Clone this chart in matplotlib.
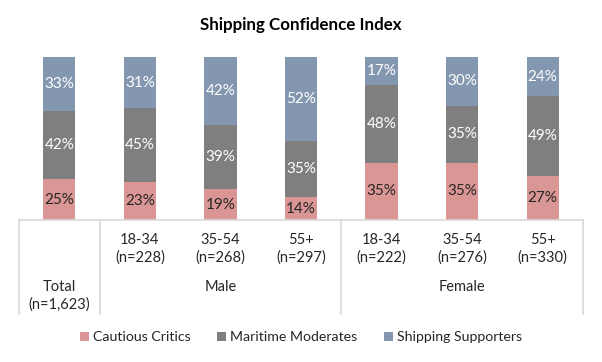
import numpy as np
import matplotlib.pyplot as plt
from matplotlib import transforms

# chart values
ages = ["", "18-34", "35-54", "55+", "18-34", "35-54", "55+"]
counts = ["", "(n=228)", "(n=268)", "(n=297)", "(n=222)", "(n=276)", "(n=330)"]
groups = ["Male", "Female"]
series = ["Cautious Critics", "Maritime Moderates", "Shipping Supporters"]
critics = [25, 23, 19, 14, 35, 35, 27]
moderates = [42, 45, 39, 35, 48, 35, 49]
supporters = [33, 31, 42, 52, 17, 30, 24]

colors = ["#D99694", "#7F7F7F", "#8497B0"]
label_colors = ["#262626", "white", "white"]
line_color = "#D9D9D9"

plt.rcParams['font.family'] = ['Lato', 'DejaVu Sans']

fig = plt.figure(figsize=(6.02, 3.62), dpi=100)
W, H = 602, 362
ax = fig.add_axes([19 / W, 1 - 220 / H, (583 - 19) / W, (220 - 57) / H])

x = np.arange(len(critics))
data = np.array([critics, moderates, supporters], dtype=float)
totals = data.sum(axis=0)
shares = data / totals  # rounded labels don't always add to 100

bottom = np.zeros(len(x))
for i, name in enumerate(series):
    ax.bar(x, shares[i], 0.4, bottom=bottom, color=colors[i], label=name)
    for j in range(len(x)):
        ax.text(x[j], bottom[j] + shares[i][j] / 2, "%d%%" % data[i][j],
                ha="center", va="center", fontsize=11, color=label_colors[i])
    bottom += shares[i]

ax.set_xlim(-0.5, len(x) - 0.5)
ax.set_ylim(0, 1)
ax.set_yticks([])
ax.set_xticks([])
for s in ["top", "left", "right"]:
    ax.spines[s].set_visible(False)
ax.spines["bottom"].set_color(line_color)
ax.spines["bottom"].set_linewidth(1.2)

# multi-level category axis
trans = transforms.blended_transform_factory(ax.transData, ax.transAxes)
depth = -(314 - 220) / 163
for xs in [-0.5, 0.5, 3.5, 6.5]:
    ax.plot([xs, xs], [0, depth], color=line_color, lw=1.2,
            transform=trans, clip_on=False)

for j in range(1, len(x)):
    ax.text(x[j], -(249 - 220) / 163, ages[j] + "\n" + counts[j], transform=trans,
            ha="center", va="center", fontsize=10.5, color="#262626",
            linespacing=1.25)
ax.text(0, -(296 - 220) / 163, "Total\n(n=1,623)", transform=trans,
        ha="center", va="center", fontsize=10.5, color="#262626", linespacing=1.25)
ax.text(2, -(287 - 220) / 163, groups[0], transform=trans,
        ha="center", va="center", fontsize=10.5, color="#262626")
ax.text(5, -(287 - 220) / 163, groups[1], transform=trans,
        ha="center", va="center", fontsize=10.5, color="#262626")

fig.text(0.5, 1 - 25 / H, "Shipping Confidence Index", ha="center", va="center",
         fontsize=12.2, fontweight="bold", color="black")

fig.legend(loc="center", bbox_to_anchor=(0.5, 1 - 337 / H), ncol=3, frameon=False,
           fontsize=10.2, handlelength=0.6, handleheight=0.6, handletextpad=0.3,
           columnspacing=1.9, labelcolor="#262626")

fig.savefig("out.png", dpi=100)
